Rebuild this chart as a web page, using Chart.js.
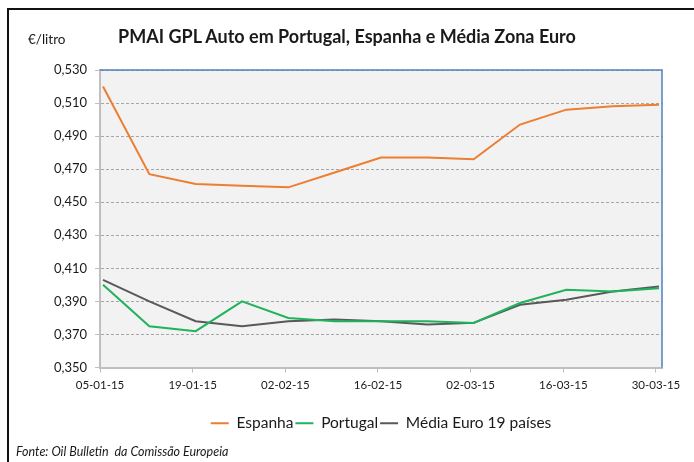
<!DOCTYPE html>
<html>
<head>
<meta charset="utf-8">
<script src="https://cdn.jsdelivr.net/npm/chart.js@4.4.1/dist/chart.umd.min.js"></script>
<style>
    html, body { margin: 0; padding: 0; background: #fff; }
    #wrap { position: relative; width: 694px; height: 462px; overflow: hidden; font-family: Lato, sans-serif; color: #1a1a1a; }
    #frame { position: absolute; left: 7px; top: 8px; width: 800px; height: 600px; border-left: 2px solid #111; border-top: 2px solid #111; }
    #gplChart { position: absolute; left: 0; top: 0; }
    #title { position: absolute; left: 0; width: 694px; top: 25px; text-align: center; font-weight: bold; font-size: 18px; }
    #unit { position: absolute; left: 28px; top: 31px; font-size: 13.5px; }
    #source { position: absolute; left: 16px; top: 444px; font-style: italic; font-size: 12.5px; }
</style>
</head>
<body>
<div id="wrap">
    <div id="frame"></div>
    <canvas id="gplChart" width="694" height="462"></canvas>
    <div id="title">PMAI GPL Auto em Portugal, Espanha e Média Zona Euro</div>
    <div id="unit">€/litro</div>
    <div id="source">Fonte: Oil Bulletin&nbsp; da Comissão Europeia</div>
</div>
<script>
// weekly prices (€/litro)
const dates = ['05-01-15', '12-01-15', '19-01-15', '26-01-15', '02-02-15', '09-02-15', '16-02-15',
               '23-02-15', '02-03-15', '09-03-15', '16-03-15', '23-03-15', '30-03-15'];
const espanha = [0.520, 0.467, 0.461, 0.460, 0.459, 0.468, 0.477, 0.477, 0.476, 0.497, 0.506, 0.508, 0.509];
const portugal = [0.400, 0.375, 0.372, 0.390, 0.380, 0.378, 0.378, 0.378, 0.377, 0.389, 0.397, 0.396, 0.398];
const mediaEuro = [0.403, 0.390, 0.378, 0.375, 0.378, 0.379, 0.378, 0.376, 0.377, 0.388, 0.391, 0.396, 0.399];
const labelWeeks = [0, 2, 4, 6, 8, 10, 12];

// points sit a little right of the date ticks in the original
const shift = 0.065;

function toPoints(values) {
    return values.map((v, i) => ({ x: i, y: v }));
}

const plotFrame = {
    id: 'plotFrame',
    beforeDraw(chart) {
        const a = chart.chartArea;
        const ctx = chart.ctx;
        ctx.save();
        ctx.fillStyle = '#f2f2f2';
        ctx.fillRect(a.left, a.top, a.right - a.left, a.bottom - a.top);
        ctx.restore();
    },
    afterDatasetsDraw(chart) {
        const a = chart.chartArea;
        const ctx = chart.ctx;
        ctx.save();
        ctx.strokeStyle = '#4f81bd';
        ctx.lineWidth = 1.5;
        ctx.beginPath();
        ctx.moveTo(a.left, a.top);
        ctx.lineTo(a.right, a.top);
        ctx.lineTo(a.right, a.bottom);
        ctx.stroke();
        ctx.restore();
    }
};

const lineOpts = { borderWidth: 2, pointRadius: 0, tension: 0, fill: false };

const ctx = document.getElementById('gplChart').getContext('2d');
new Chart(ctx, {
    type: 'line',
    data: {
        datasets: [
            { label: 'Espanha', data: toPoints(espanha), borderColor: '#ed7d31', ...lineOpts },
            { label: 'Portugal', data: toPoints(portugal), borderColor: '#1fb35c', ...lineOpts },
            { label: 'Média Euro 19 países', data: toPoints(mediaEuro), borderColor: '#595959', ...lineOpts }
        ]
    },
    plugins: [plotFrame],
    options: {
        responsive: false,
        animation: false,
        layout: {
            padding: { top: 70, right: 32, left: 0, bottom: 21 }
        },
        plugins: {
            tooltip: { enabled: false },
            legend: {
                position: 'bottom',
                fullSize: false,
                labels: {
                    usePointStyle: true,
                    pointStyle: 'line',
                    pointStyleWidth: 18,
                    padding: 2,
                    color: '#1a1a1a',
                    font: { family: 'Lato', size: 15.5 }
                }
            }
        },
        scales: {
            x: {
                type: 'linear',
                min: -shift,
                max: 12.065,
                afterFit: function(scale) { scale.height = 46; },
                afterBuildTicks: function(scale) {
                    scale.ticks = labelWeeks.map(w => ({ value: w - shift }));
                },
                grid: {
                    drawOnChartArea: false,
                    drawTicks: true,
                    tickLength: 5,
                    tickColor: '#bfbfbf',
                    tickWidth: 1
                },
                border: { color: '#bfbfbf', width: 2 },
                ticks: {
                    padding: 6,
                    maxRotation: 0,
                    color: '#1a1a1a',
                    font: { family: 'Lato', size: 11.5 },
                    callback: function(value) {
                        return dates[Math.round(value + shift)];
                    }
                }
            },
            y: {
                min: 0.35,
                max: 0.53,
                afterFit: function(scale) { scale.width = 100; },
                grid: {
                    color: '#a6a6a6',
                    lineWidth: 1,
                    tickLength: 5,
                    tickColor: '#bfbfbf',
                    tickBorderDash: []
                },
                border: { color: '#bfbfbf', width: 2, dash: [3, 2] },
                ticks: {
                    stepSize: 0.02,
                    padding: 8,
                    color: '#1a1a1a',
                    font: { family: 'Lato', size: 13 },
                    callback: function(value) {
                        return value.toFixed(3).replace('.', ',');
                    }
                }
            }
        }
    }
});
</script>
</body>
</html>
